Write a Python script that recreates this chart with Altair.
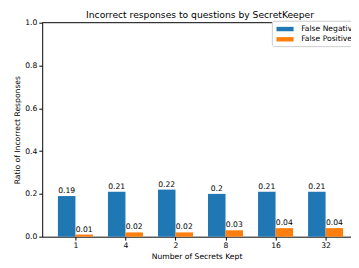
import altair as alt
import pandas as pd

title_text = "Incorrect responses to questions by SecretKeeper"
categories = ["1", "4", "2", "8", "16", "32"]
false_negatives = [0.19, 0.21, 0.22, 0.2, 0.21, 0.21]
false_positives = [0.01, 0.02, 0.02, 0.03, 0.04, 0.04]
series_names = ["False Negatives", "False Positives"]
colors = ["#1f77b4", "#ff7f0e"]
y_ticks = [0.0, 0.2, 0.4, 0.6, 0.8, 1.0]

rows = []
for i, c in enumerate(categories):
    rows.append({"idx": i, "series": series_names[0], "value": false_negatives[i],
                 "side": -1, "label": str(false_negatives[i])})
    rows.append({"idx": i, "series": series_names[1], "value": false_positives[i],
                 "side": 1, "label": str(false_positives[i])})
df = pd.DataFrame(rows)

W = 316
H = 219
bar_w = 0.35
px_per_unit = 51.2
x_lo = -0.664
x_hi = x_lo + W / px_per_unit
FS = 7.8

label_expr = "[" + ",".join("'" + c + "'" for c in categories) + "][datum.value]"

xscale = alt.Scale(domain=[x_lo, x_hi], nice=False, zero=False, padding=0)
yscale = alt.Scale(domain=[0, 1], nice=False, padding=0)

base = alt.Chart(df).transform_calculate(
    x0=f"datum.idx + (datum.side < 0 ? -{bar_w} : 0)",
).transform_calculate(
    x1=f"datum.x0 + {bar_w}",
    xm=f"datum.x0 + {bar_w / 2}",
)

bars = base.mark_bar().encode(
    x=alt.X("x0:Q", scale=xscale,
            axis=alt.Axis(values=list(range(len(categories))), labelExpr=label_expr,
                          title="Number of Secrets Kept", grid=False)),
    x2="x1:Q",
    y=alt.Y("value:Q", scale=yscale,
            axis=alt.Axis(values=y_ticks, format=".1f", title="Ratio of Incorrect Responses",
                          grid=False)),
    y2=alt.datum(0),
    color=alt.Color("series:N", scale=alt.Scale(domain=series_names, range=colors),
                    legend=alt.Legend(title=None, orient="none", legendX=235, legendY=-2)),
)

texts = base.mark_text(baseline="alphabetic", dy=-3, fontSize=FS, color="black").encode(
    x=alt.X("xm:Q", scale=xscale),
    y=alt.Y("value:Q", scale=yscale),
    text="label:N",
)

top_spine = alt.Chart(pd.DataFrame({"k": [0]})).mark_rule(color="black", strokeWidth=1).encode(
    x=alt.value(0), x2=alt.value(W), y=alt.value(0)
)

title_mark = alt.Chart(pd.DataFrame({"t": [title_text]})).mark_text(
    baseline="alphabetic", align="center", fontSize=9.4, color="black"
).encode(x=alt.value(161.5), y=alt.value(-5), text="t:N")

chart = alt.layer(bars, texts, top_spine, title_mark).properties(
    width=W, height=H,
    autosize=alt.AutoSizeParams(type="none"),
    padding={"left": 35, "top": 12, "right": 0, "bottom": 29},
).configure(font="DejaVu Sans").configure_view(stroke=None).configure_axis(
    domainColor="black", tickColor="black", tickSize=3.5, labelFontSize=FS, labelColor="black",
    titleFontSize=FS, titleFontWeight="normal", titleColor="black", labelPadding=2,
    titlePadding=3, domainWidth=1,
).configure_legend(
    fillColor="white", strokeColor="#cccccc", cornerRadius=2, padding=3, rowPadding=0.5,
    symbolType="M-1.59,-0.41H1.59V0.41H-1.59Z", symbolSize=121, symbolStrokeWidth=0,
    symbolOpacity=1, symbolOffset=5, labelOffset=11, labelFontSize=FS, labelColor="black",
)

chart.save("out.html", embed_options={"renderer": "svg", "actions": False})
